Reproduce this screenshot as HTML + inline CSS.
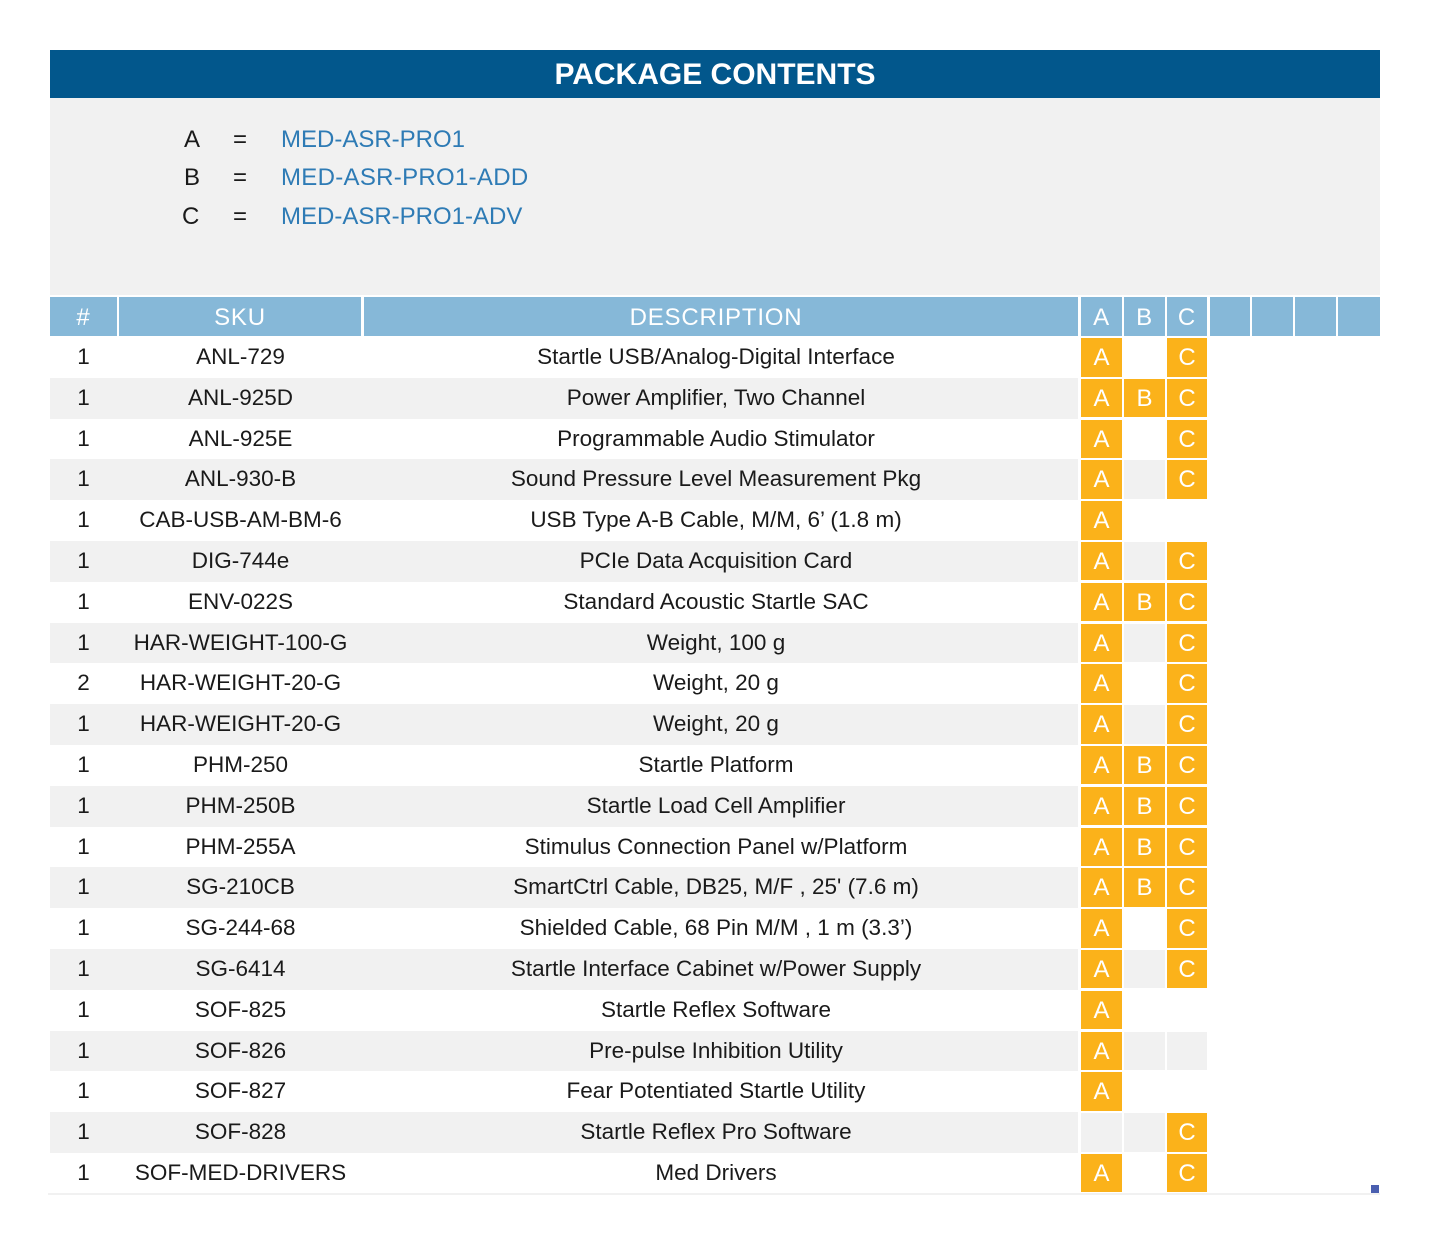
<!DOCTYPE html>
<html><head><meta charset="utf-8"><style>
*{margin:0;padding:0;box-sizing:border-box}
body{width:1430px;height:1244px;background:#fff;position:relative;font-family:"Liberation Sans",sans-serif;color:#1a1a1a;overflow:hidden}
.abs{position:absolute}
#title{left:50px;top:50px;width:1330px;height:48px;background:#02578c;color:#fff;font-weight:bold;font-size:30px;text-align:center;line-height:50px}
#gray{left:50px;top:98px;width:1330px;height:197px;background:#f1f1f1}
.leg{position:absolute;font-size:24px;line-height:30px}
.hd{position:absolute;top:297px;height:39px;background:#86b8d8;color:#fff;font-size:24px;text-align:center;line-height:42px;letter-spacing:0.8px}
#rows{position:absolute;left:0;top:337px;width:1430px}
.r{position:relative;height:40.8px}
.r.s .bg{position:absolute;left:50px;top:0;width:1028px;height:40.8px;background:#f1f1f1}
.c{position:absolute;top:0;height:40.8px;line-height:40px;font-size:22.5px;text-align:center;white-space:nowrap}
.n{left:50px;width:67px}
.k{left:119px;width:243px}
.d{left:364px;width:704px}
.L{position:absolute;top:1px;height:38.5px;width:41px;line-height:40px;font-size:24px;text-align:center;color:#fff}
.y{background:#fbb21a}
.r.s .L{background:#f1f1f1}
.r.s .L.y{background:#fbb21a}
.a{left:1081px}.b{left:1124px;width:41px}.cc{left:1167px;width:40px}
</style></head><body>
<div id="title" class="abs">PACKAGE CONTENTS</div>
<div id="gray" class="abs"></div>
<div class="leg" style="left:184px;top:125px">A</div>
<div class="leg" style="left:233px;top:125px">=</div>
<div class="leg" style="left:281px;top:125px;color:#2e7bb5">MED-ASR-PRO1</div>
<div class="leg" style="left:184px;top:163px">B</div>
<div class="leg" style="left:233px;top:163px">=</div>
<div class="leg" style="left:281px;top:163px;color:#2e7bb5;letter-spacing:0.3px">MED-ASR-PRO1-ADD</div>
<div class="leg" style="left:182px;top:202px">C</div>
<div class="leg" style="left:233px;top:202px">=</div>
<div class="leg" style="left:281px;top:202px;color:#2e7bb5">MED-ASR-PRO1-ADV</div>

<div class="hd" style="left:50px;width:67px">#</div>
<div class="hd" style="left:119px;width:242px">SKU</div>
<div class="hd" style="left:364px;width:714px;text-indent:-10px">DESCRIPTION</div>
<div class="hd" style="left:1081px;width:41px">A</div>
<div class="hd" style="left:1124px;width:41px">B</div>
<div class="hd" style="left:1167px;width:40px">C</div>
<div class="hd" style="left:1210px;width:40px"></div>
<div class="hd" style="left:1252px;width:41px"></div>
<div class="hd" style="left:1295px;width:41px"></div>
<div class="hd" style="left:1338px;width:42px"></div>

<div id="rows">
<div class="r"><div class="bg"></div><div class="c n">1</div><div class="c k">ANL-729</div><div class="c d">Startle USB/Analog-Digital Interface</div><div class="L a y">A</div><div class="L b"></div><div class="L cc y">C</div></div>
<div class="r s"><div class="bg"></div><div class="c n">1</div><div class="c k">ANL-925D</div><div class="c d">Power Amplifier, Two Channel</div><div class="L a y">A</div><div class="L b y">B</div><div class="L cc y">C</div></div>
<div class="r"><div class="bg"></div><div class="c n">1</div><div class="c k">ANL-925E</div><div class="c d">Programmable Audio Stimulator</div><div class="L a y">A</div><div class="L b"></div><div class="L cc y">C</div></div>
<div class="r s"><div class="bg"></div><div class="c n">1</div><div class="c k">ANL-930-B</div><div class="c d">Sound Pressure Level Measurement Pkg</div><div class="L a y">A</div><div class="L b"></div><div class="L cc y">C</div></div>
<div class="r"><div class="bg"></div><div class="c n">1</div><div class="c k">CAB-USB-AM-BM-6</div><div class="c d">USB Type A-B Cable, M/M, 6’ (1.8 m)</div><div class="L a y">A</div><div class="L b"></div><div class="L cc"></div></div>
<div class="r s"><div class="bg"></div><div class="c n">1</div><div class="c k">DIG-744e</div><div class="c d">PCIe Data Acquisition Card</div><div class="L a y">A</div><div class="L b"></div><div class="L cc y">C</div></div>
<div class="r"><div class="bg"></div><div class="c n">1</div><div class="c k">ENV-022S</div><div class="c d">Standard Acoustic Startle SAC</div><div class="L a y">A</div><div class="L b y">B</div><div class="L cc y">C</div></div>
<div class="r s"><div class="bg"></div><div class="c n">1</div><div class="c k">HAR-WEIGHT-100-G</div><div class="c d">Weight, 100 g</div><div class="L a y">A</div><div class="L b"></div><div class="L cc y">C</div></div>
<div class="r"><div class="bg"></div><div class="c n">2</div><div class="c k">HAR-WEIGHT-20-G</div><div class="c d">Weight, 20 g</div><div class="L a y">A</div><div class="L b"></div><div class="L cc y">C</div></div>
<div class="r s"><div class="bg"></div><div class="c n">1</div><div class="c k">HAR-WEIGHT-20-G</div><div class="c d">Weight, 20 g</div><div class="L a y">A</div><div class="L b"></div><div class="L cc y">C</div></div>
<div class="r"><div class="bg"></div><div class="c n">1</div><div class="c k">PHM-250</div><div class="c d">Startle Platform</div><div class="L a y">A</div><div class="L b y">B</div><div class="L cc y">C</div></div>
<div class="r s"><div class="bg"></div><div class="c n">1</div><div class="c k">PHM-250B</div><div class="c d">Startle Load Cell Amplifier</div><div class="L a y">A</div><div class="L b y">B</div><div class="L cc y">C</div></div>
<div class="r"><div class="bg"></div><div class="c n">1</div><div class="c k">PHM-255A</div><div class="c d">Stimulus Connection Panel w/Platform</div><div class="L a y">A</div><div class="L b y">B</div><div class="L cc y">C</div></div>
<div class="r s"><div class="bg"></div><div class="c n">1</div><div class="c k">SG-210CB</div><div class="c d">SmartCtrl Cable, DB25, M/F , 25' (7.6 m)</div><div class="L a y">A</div><div class="L b y">B</div><div class="L cc y">C</div></div>
<div class="r"><div class="bg"></div><div class="c n">1</div><div class="c k">SG-244-68</div><div class="c d">Shielded Cable, 68 Pin M/M , 1 m (3.3’)</div><div class="L a y">A</div><div class="L b"></div><div class="L cc y">C</div></div>
<div class="r s"><div class="bg"></div><div class="c n">1</div><div class="c k">SG-6414</div><div class="c d">Startle Interface Cabinet w/Power Supply</div><div class="L a y">A</div><div class="L b"></div><div class="L cc y">C</div></div>
<div class="r"><div class="bg"></div><div class="c n">1</div><div class="c k">SOF-825</div><div class="c d">Startle Reflex Software</div><div class="L a y">A</div><div class="L b"></div><div class="L cc"></div></div>
<div class="r s"><div class="bg"></div><div class="c n">1</div><div class="c k">SOF-826</div><div class="c d">Pre-pulse Inhibition Utility</div><div class="L a y">A</div><div class="L b"></div><div class="L cc"></div></div>
<div class="r"><div class="bg"></div><div class="c n">1</div><div class="c k">SOF-827</div><div class="c d">Fear Potentiated Startle Utility</div><div class="L a y">A</div><div class="L b"></div><div class="L cc"></div></div>
<div class="r s"><div class="bg"></div><div class="c n">1</div><div class="c k">SOF-828</div><div class="c d">Startle Reflex Pro Software</div><div class="L a"></div><div class="L b"></div><div class="L cc y">C</div></div>
<div class="r"><div class="bg"></div><div class="c n">1</div><div class="c k">SOF-MED-DRIVERS</div><div class="c d">Med Drivers</div><div class="L a y">A</div><div class="L b"></div><div class="L cc y">C</div></div>
</div>
<div class="abs" style="left:48px;top:1193px;width:1332px;height:2px;background:#f1f1f1"></div>
<div class="abs" style="left:1371px;top:1185px;width:8px;height:8px;background:#4a5fb0"></div>
</body></html>
